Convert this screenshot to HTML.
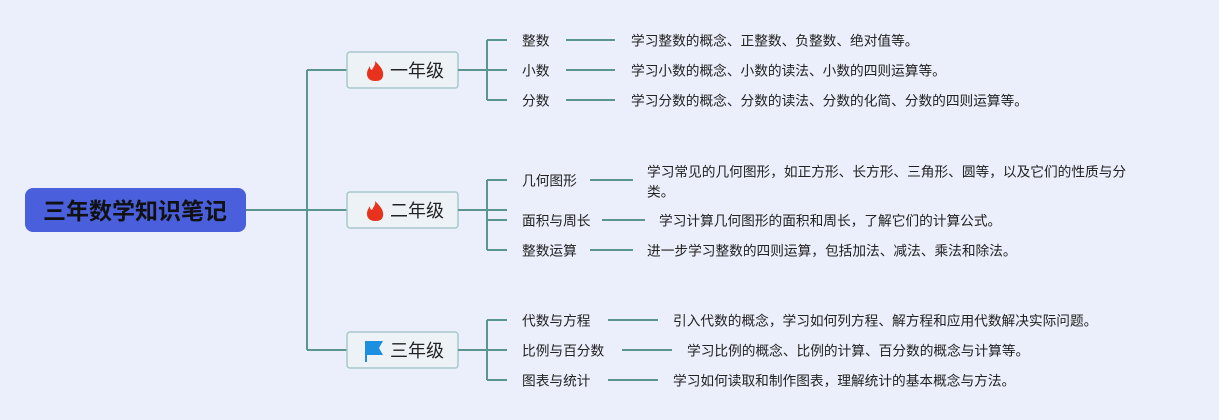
<!DOCTYPE html>
<html><head><meta charset="utf-8"><style>
html,body{margin:0;padding:0;background:#ebeffb;}
svg{display:block;font-family:"Liberation Sans","Noto Sans CJK SC",sans-serif;}
.t{font-size:13.7px;fill:#222;dominant-baseline:central;}
.l{stroke:#5a968e;stroke-width:2;fill:none;}
.g{font-size:18px;fill:#222;dominant-baseline:central;}
</style></head><body>
<svg width="1219" height="420" viewBox="0 0 1219 420">
<rect width="1219" height="420" fill="#ebeffb"/>
<!-- root -->
<rect x="25" y="188" width="221" height="44" rx="8" fill="#4a5fdc"/>
<text x="135" y="211" text-anchor="middle" dominant-baseline="central" font-size="23" font-weight="bold" fill="#111">三年数学知识笔记</text>
<path class="l" d="M246 210H347M307 70V350M307 70H347M307 350H347"/>
<!-- level boxes -->
<g>
<rect x="347" y="52" width="111" height="36" rx="3" fill="#edf2f7" stroke="#a9c6cc" stroke-width="1.5"/>
<rect x="347" y="192" width="111" height="36" rx="3" fill="#edf2f7" stroke="#a9c6cc" stroke-width="1.5"/>
<rect x="347" y="332" width="111" height="36" rx="3" fill="#edf2f7" stroke="#a9c6cc" stroke-width="1.5"/>
<path d="M375 61c5 5 9 9 8 15c-1 5-5 5-8 5c-4 0-8-2-8-7c0-4 2-6 3-8c0 3 1 4 2 4c1-3 4-5 3-9z" fill="#e8321e"/>
<path d="M375 201c5 5 9 9 8 15c-1 5-5 5-8 5c-4 0-8-2-8-7c0-4 2-6 3-8c0 3 1 4 2 4c1-3 4-5 3-9z" fill="#e8321e"/>
<path d="M365 341h18l-4 7l4 7h-16v7h-2z" fill="#1d8fe0"/>
<text class="g" x="390" y="71">一年级</text>
<text class="g" x="390" y="211">二年级</text>
<text class="g" x="390" y="351">三年级</text>
</g>
<!-- brackets -->
<path class="l" d="M458 70H507M487 40V100M487 40H507M487 100H507"/>
<path class="l" d="M458 210H507M487 180V250M487 180H507M487 220H507M487 250H507"/>
<path class="l" d="M458 350H507M487 320V380M487 320H507M487 380H507"/>
<!-- leaf lines -->
<path class="l" d="M566 40H615M566 70H615M566 100H615M590 180H633M602 220H645M590 250H633M608 320H658M622 350H672M608 380H658"/>
<g class="t">
<text class="t" x="522" y="41">整数</text>
<text class="t" x="522" y="71">小数</text>
<text class="t" x="522" y="101">分数</text>
<text class="t" x="522" y="181">几何图形</text>
<text class="t" x="522" y="221">面积与周长</text>
<text class="t" x="522" y="251">整数运算</text>
<text class="t" x="522" y="321">代数与方程</text>
<text class="t" x="522" y="351">比例与百分数</text>
<text class="t" x="522" y="381">图表与统计</text>
<text class="t" x="631" y="41">学习整数的概念、正整数、负整数、绝对值等。</text>
<text class="t" x="631" y="71">学习小数的概念、小数的读法、小数的四则运算等。</text>
<text class="t" x="631" y="101">学习分数的概念、分数的读法、分数的化简、分数的四则运算等。</text>
<text class="t" x="647" y="172">学习常见的几何图形，如正方形、长方形、三角形、圆等，以及它们的性质与分</text>
<text class="t" x="647" y="192">类。</text>
<text class="t" x="659" y="221">学习计算几何图形的面积和周长，了解它们的计算公式。</text>
<text class="t" x="647" y="251">进一步学习整数的四则运算，包括加法、减法、乘法和除法。</text>
<text class="t" x="673" y="321">引入代数的概念，学习如何列方程、解方程和应用代数解决实际问题。</text>
<text class="t" x="687" y="351">学习比例的概念、比例的计算、百分数的概念与计算等。</text>
<text class="t" x="673" y="381">学习如何读取和制作图表，理解统计的基本概念与方法。</text>
</g>
</svg>
</body></html>
